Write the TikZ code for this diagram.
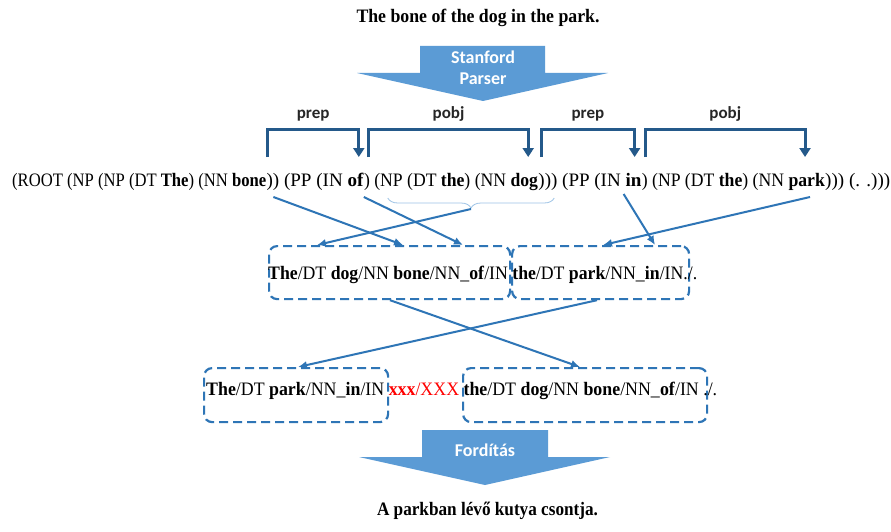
\documentclass[tikz,border=0pt]{standalone}
\usepackage{fontspec}
\setmainfont{Liberation Serif}
\newfontfamily\calib{Carlito}
\usetikzlibrary{arrows.meta,decorations.pathreplacing,calc}
\definecolor{cblue}{HTML}{2E75B6}
\definecolor{afill}{HTML}{5B9BD5}
\definecolor{bdark}{HTML}{24598A}
\definecolor{lblue}{HTML}{9DC3E6}
\newcommand\linefont{\fontsize{19}{22}\selectfont}
\newcommand\tfont{\fontsize{19}{22}\selectfont}
\newcommand\fitw[2]{\resizebox{#1}{\height}{#2}}
\begin{document}
\begin{tikzpicture}[x=1pt,y=-1pt,
  seg/.style={inner sep=0pt, anchor=base west, font=\linefont},
  dbox/.style={draw=cblue, line width=2.2pt, dash pattern=on 9pt off 5pt, rounded corners=8pt, inner sep=0pt, anchor=north west},
  conn/.style={draw=cblue, line width=2pt, -{Latex[length=9pt,width=8pt]}},
  brkline/.style={draw=bdark, line width=3pt, -{Triangle[length=9pt,width=11pt]}},
  lbl/.style={font=\calib\fontsize{17}{20}\selectfont\bfseries, text=black!85, inner sep=0pt},
  arrtxt/.style={font=\calib\fontsize{18}{21}\selectfont\bfseries, text=white, inner sep=0pt},
  txt/.style={inner sep=0pt, font=\tfont}]
\useasboundingbox (0,0) rectangle (891,532);
\fill[white] (0,0) rectangle (891,532);

% title
\node[txt, anchor=base] (title) at (478,23) {\fitw{243pt}{\bfseries The bone of the dog in the park.}};

% Stanford Parser arrow
\fill[afill] (420,46) -- (545,46) -- (545,73) -- (608,73) -- (483,101) -- (357,73) -- (420,73) -- cycle;
\node[arrtxt] (sp1) at (483,57) {Stanford};
\node[arrtxt] (sp2) at (483,79) {Parser};

% parse line, in groups that each end with a word
\node[seg] (bone) at (12,186) {\fitw{254pt}{(ROOT (NP (NP (DT \textbf{The}) (NN \textbf{bone}}};
\node[seg] (of) at (bone.base east) {\fitw{97pt}{)) (PP (IN \textbf{of}}};
\node[seg] (dog) at (of.base east) {\fitw{174pt}{) (NP (DT \textbf{the}) (NN \textbf{dog}}};
\node[seg] (in) at (dog.base east) {\fitw{103pt}{))) (PP (IN \textbf{in}}};
\node[seg] (park) at (in.base east) {\fitw{183pt}{) (NP (DT \textbf{the}) (NN \textbf{park}}};
\node[seg] (tail) at (park.base east) {\fitw{65pt}{))) (. .)))}};

% bracket end points
\path (bone.east) ++(1,0) coordinate (h1);
\path (of.east) ++(-5,0) coordinate (d1);
\path (of.east) ++(5,0) coordinate (h2);
\path (dog.east) ++(-10,0) coordinate (d2);
\path (dog.east) ++(3,0) coordinate (h3);
\path (in.east) ++(-7,0) coordinate (d3);
\path (in.east) ++(4,0) coordinate (h4);
\path (park.east) ++(-20,0) coordinate (d4);

\draw[brkline] (h1 |- 0,157) -- (h1 |- 0,130) -| node[lbl, pos=0.25, anchor=south, yshift=7pt] {prep} (d1 |- 0,157);
\draw[brkline] (h2 |- 0,157) -- (h2 |- 0,130) -| node[lbl, pos=0.25, anchor=south, yshift=7pt] {pobj} (d2 |- 0,157);
\draw[brkline] (h3 |- 0,157) -- (h3 |- 0,130) -| node[lbl, pos=0.25, anchor=south, yshift=7pt] {prep} (d3 |- 0,157);
\draw[brkline] (h4 |- 0,157) -- (h4 |- 0,130) -| node[lbl, pos=0.25, anchor=south, yshift=7pt] {pobj} (d4 |- 0,157);

% brace under (NP (DT the) (NN dog)))
\path (of.east |- 0,198) ++(24,0) coordinate (bl);
\path (dog.east |- 0,198) ++(16,0) coordinate (br);
\draw[lblue, line width=0.8pt, decorate, decoration={brace, mirror, amplitude=10pt}] (bl) -- (br);
\coordinate (sdog) at ($(bl)!0.5!(br)+(0,11)$);

% sources under words
\path (bone.east |- 0,197) ++(7,0) coordinate (sbone);
\path (of.east |- 0,197) ++(0,0) coordinate (sof);
\path (in.east |- 0,194) ++(-18,0) coordinate (sin);
\path (park.east |- 0,197) ++(-15,0) coordinate (spark);

% middle row
\node[dbox, minimum width=241pt, minimum height=53pt] (A) at (268,245) {};
\node[dbox, minimum width=177pt, minimum height=53pt] (B) at (511,245) {};
\node[txt, anchor=base west] (r2) at (268,279) {\fitw{429pt}{\textbf{The}/DT \textbf{dog}/NN \textbf{bone}/NN\_\textbf{of}/IN \textbf{the}/DT \textbf{park}/NN\_\textbf{in}/IN./.}};

% bottom row
\node[dbox, minimum width=184pt, minimum height=54pt] (C) at (203,367) {};
\node[dbox, minimum width=244pt, minimum height=54pt] (D) at (462,367) {};
\node[txt, anchor=base west] (r3) at (206,395) {\fitw{511pt}{\textbf{The}/DT \textbf{park}/NN\_\textbf{in}/IN \textcolor{red}{\textbf{xxx}/XXX} \textbf{the}/DT \textbf{dog}/NN \textbf{bone}/NN\_\textbf{of}/IN ./.}};

% connectors line -> middle row
\draw[conn] (sbone) -- ($(A.north west)+(135,0)$);
\draw[conn] (sof) -- ($(A.north west)+(195,0)$);
\draw[conn] (sdog) -- ($(A.north west)+(49,0)$);
\draw[conn] (sin) -- ($(B.north west)+(144,0)$);
\draw[conn] (spark) -- ($(B.north west)+(92,0)$);

% middle -> bottom
\draw[conn] ($(A.south west)+(122,0)$) -- ($(D.north west)+(118,0)$);
\draw[conn] ($(B.south west)+(86,0)$) -- ($(C.north west)+(95,0)$);

% Forditas arrow
\fill[afill] (422,430) -- (548,430) -- (548,457) -- (610,457) -- (485,485) -- (359,457) -- (422,457) -- cycle;
\node[arrtxt] (fo) at (485,450) {Fordítás};

% result
\node[txt, anchor=base] (res) at (487.5,515) {\fitw{221pt}{\bfseries A parkban lévő kutya csontja.}};
\end{tikzpicture}
\end{document}
